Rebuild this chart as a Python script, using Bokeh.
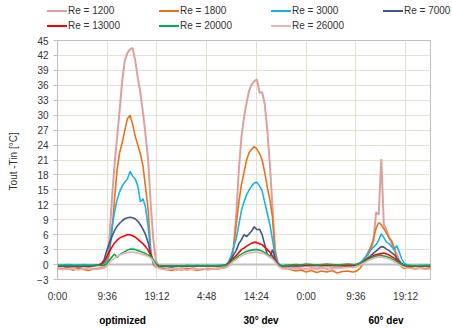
from bokeh.plotting import figure
from bokeh.layouts import column
from bokeh.models import Range1d, FixedTicker, LinearAxis, Span, Div
from bokeh.embed import file_html
from bokeh.resources import INLINE

# ---- time axis (hours since start) ----
T_PRE = [0, 1, 2, 3, 4, 5, 6, 7, 8]
T_D1 = [8.5, 9, 9.5, 10, 10.5, 11, 11.5, 12, 12.5, 13, 13.5, 14, 14.5, 15, 15.5, 16, 16.5, 17, 17.5, 18, 18.5, 19, 19.5]
T_G1 = [20, 21, 22, 23, 24, 25, 26, 27, 28, 29, 30, 31, 32]
T_D2 = [32.5, 33, 33.5, 34, 34.5, 35, 35.5, 36, 36.5, 37, 37.5, 38, 38.5, 39, 39.5, 40, 40.5, 41, 41.5, 42, 42.5, 43, 43.5]
T_G2 = [44, 45, 46, 47, 48, 49, 50, 51, 52, 53, 54, 55, 56, 57]
T_D3 = [57.5, 58, 58.5, 59, 59.5, 60, 60.5, 61, 61.5, 62, 62.5, 63, 63.5, 64, 64.5, 65, 65.5, 66, 66.5, 67, 67.5]
T_POST = [68, 69, 70, 71, 72]

x_ticks = [0, 9.6, 19.2, 28.8, 38.4, 48, 57.6, 67.2]
x_tick_labels = ["0:00", "9:36", "19:12", "4:48", "14:24", "0:00", "9:36", "19:12"]
y_ticks = [-3, 0, 3, 6, 9, 12, 15, 18, 21, 24, 27, 30, 33, 36, 39, 42, 45]
group_pos = [12.55, 39.3, 63.4]
group_names = ["optimized", "30° dev", "60° dev"]

# ---- Re = 1200 ----
re1200_pre = [-0.8, -0.9, -0.7, -1.0, -0.8, -0.9, -0.7, -0.9, -0.8]
re1200_d1 = [-0.6, -0.3, 0.5, 5, 13, 20, 25.5, 31, 37, 41, 42.5, 43.2, 43.5, 41, 37.5, 34.5, 30.5, 26, 21, 12, 5, 0.8, -0.3]
re1200_g1 = [-0.6, -0.9, -0.7, -1.1, -0.8, -1.0, -0.7, -0.9, -1.0, -0.8, -0.9, -0.7, -0.6]
re1200_d2 = [-0.5, -0.3, 0.2, 3.5, 10, 19, 25.5, 29.5, 32.5, 35, 36.2, 36.8, 37.2, 34.5, 34.6, 32.3, 27, 20, 11.5, 3, 0.5, -0.2, -0.4]
re1200_g2 = [-0.5, -0.7, -0.6, -0.8, -0.9, -0.7, -0.8, -0.6, -0.9, -0.7, -0.6, -0.5, -0.4, -0.4]
re1200_d3 = [-0.3, -0.2, 0.1, 0.6, 1.2, 2.0, 3.0, 4.8, 10.5, 10, 21.2, 8.0, 7.0, 5.5, 4.2, 3.2, 2.0, 0.8, 0.2, -0.3, -0.5]
re1200_post = [-0.6, -0.8, -0.7, -0.9, -0.8]

# ---- Re = 1800 ----
re1800_pre = [-0.9, -1.0, -0.8, -1.1, -0.9, -1.0, -1.2, -0.9, -0.8]
re1800_d1 = [-0.8, -0.7, -0.2, 2, 6.5, 13, 19, 22.5, 24.5, 27, 29.3, 30, 28.2, 25.8, 24, 22.2, 19.8, 15.5, 11, 3, 0, -0.5, -0.7]
re1800_g1 = [-0.8, -1.0, -1.2, -0.9, -1.1, -0.8, -1.0, -1.2, -0.9, -1.0, -0.8, -0.9, -0.7]
re1800_d2 = [-0.6, -0.2, 1, 3.5, 8, 12.5, 16, 18.5, 21, 22.5, 23.2, 23.7, 23.2, 22.3, 21, 18.5, 15.5, 13, 9.5, 2.5, 0, -0.5, -0.7]
re1800_g2 = [-0.8, -1.0, -1.3, -1.1, -1.5, -1.2, -1.6, -1.3, -1.5, -1.2, -1.7, -1.4, -1.3, -1.5]
re1800_d3 = [-1.4, -1.1, -0.6, 0.3, 1.5, 2.6, 3.6, 5.2, 7.3, 8.4, 8.0, 7.2, 6.3, 5.3, 4.8, 3.3, 1.2, 0.0, -0.5, -0.8, -0.7]
re1800_post = [-0.6, -0.9, -0.7, -0.8, -0.6]

# ---- Re = 3000 ----
re3000_pre = [-0.1, -0.1, 0.0, -0.1, -0.1, 0.0, -0.1, -0.1, -0.1]
re3000_d1 = [0.0, 0.2, 0.8, 3, 7.3, 10.5, 13, 14.6, 15.8, 16.6, 17.2, 18.7, 17.8, 17.2, 15.8, 12.6, 13.2, 11.5, 7.5, 2.2, 0.2, -0.2, -0.3]
re3000_g1 = [-0.3, -0.3, -0.4, -0.3, -0.3, -0.2, -0.2, -0.2, -0.2, -0.2, -0.2, -0.2, -0.1]
re3000_d2 = [-0.1, 0.5, 1.7, 3.5, 5.2, 8, 10.8, 12.6, 14, 15, 15.8, 16.4, 16.5, 15.8, 14.8, 12.5, 10.3, 8, 5, 1.8, 0.3, -0.1, -0.2]
re3000_g2 = [-0.2, -0.2, -0.1, -0.1, -0.1, -0.1, -0.1, -0.1, -0.1, -0.1, -0.1, -0.1, -0.1, -0.1]
re3000_d3 = [-0.1, 0.1, 0.4, 1.0, 1.6, 2.2, 3.0, 3.5, 4.0, 4.9, 6.2, 5.4, 4.5, 4.2, 3.6, 3.0, 3.8, 2.4, 1.0, 0.2, -0.1]
re3000_post = [-0.2, -0.2, -0.2, -0.1, -0.1]

# ---- Re = 7000 ----
re7000_pre = [-0.4, -0.4, -0.5, -0.4, -0.5, -0.4, -0.4, -0.3, -0.1]
re7000_d1 = [0.2, 1, 2.8, 4.2, 5.6, 6.8, 7.7, 8.3, 8.8, 9.2, 9.4, 9.5, 9.4, 9.2, 8.7, 8, 7.1, 6, 4.4, 2, 0.6, -0.1, -0.3]
re7000_g1 = [-0.4, -0.4, -0.5, -0.4, -0.4, -0.4, -0.3, -0.3, -0.3, -0.3, -0.3, -0.3, -0.2]
re7000_d2 = [-0.2, 0.3, 1.0, 2, 2.8, 4.2, 5, 6, 5.6, 6.2, 6.8, 7.6, 7, 7.1, 6, 4, 2, 1.4, 3, 1.2, 0.2, -0.2, -0.3]
re7000_g2 = [-0.3, -0.3, -0.3, -0.3, -0.2, -0.2, -0.2, -0.2, -0.2, -0.2, -0.2, -0.2, -0.2, -0.2]
re7000_d3 = [-0.2, 0.0, 0.3, 0.6, 1.0, 1.4, 1.8, 2.3, 2.7, 3.2, 3.6, 3.5, 3.1, 2.8, 2.4, 2.0, 1.3, 0.6, 0.1, -0.2, -0.3]
re7000_post = [-0.3, -0.3, -0.3, -0.3, -0.3]

# ---- Re = 13000 ----
re13000_pre = [-0.3, -0.3, -0.3, -0.3, -0.3, -0.3, -0.3, -0.2, -0.1]
re13000_d1 = [0.1, 0.6, 1.6, 2.6, 3.5, 4.3, 4.9, 5.3, 5.6, 5.8, 6.0, 6.0, 5.8, 5.5, 5.1, 4.6, 4.2, 3.6, 2.9, 1.8, 0.7, 0.0, -0.2]
re13000_g1 = [-0.3, -0.3, -0.3, -0.3, -0.3, -0.3, -0.3, -0.3, -0.3, -0.3, -0.3, -0.3, -0.2]
re13000_d2 = [-0.1, 0.3, 0.8, 1.3, 1.8, 2.4, 3.0, 3.3, 3.7, 4.0, 4.3, 4.5, 4.4, 4.2, 4.0, 3.5, 3.0, 2.5, 1.7, 0.8, 0.1, -0.2, -0.3]
re13000_g2 = [-0.2, -0.2, -0.2, -0.2, -0.2, -0.2, -0.2, -0.2, -0.2, -0.2, -0.2, -0.2, -0.2, -0.2]
re13000_d3 = [-0.1, 0.1, 0.3, 0.6, 0.9, 1.2, 1.5, 1.8, 2.0, 2.1, 2.2, 2.3, 2.1, 1.9, 1.6, 1.3, 0.9, 0.4, 0.0, -0.2, -0.3]
re13000_post = [-0.3, -0.3, -0.3, -0.3, -0.3]

# ---- Re = 20000 ----
re20000_pre = [-0.2, -0.2, -0.2, -0.2, -0.2, -0.2, -0.2, -0.2, -0.2]
re20000_d1 = [-0.2, -0.1, 0.1, 0.8, 1.5, 2.1, 1.4, 2.0, 2.3, 2.6, 2.9, 3.1, 3.1, 3.0, 2.8, 2.6, 2.4, 2.2, 1.9, 1.6, 1.0, 0.2, -0.2]
re20000_g1 = [-0.3, -0.3, -0.3, -0.3, -0.3, -0.2, -0.3, -0.2, -0.3, -0.2, -0.3, -0.2, -0.2]
re20000_d2 = [-0.2, 0.1, 0.5, 1.0, 1.3, 1.8, 2.1, 2.4, 2.6, 2.8, 2.9, 3.0, 3.0, 2.9, 2.7, 2.4, 2.1, 1.7, 1.2, 0.6, 0.0, -0.2, -0.3]
re20000_g2 = [-0.2, -0.1, 0.0, -0.1, 0.1, 0.0, -0.1, 0.0, 0.1, 0.0, -0.1, 0.0, 0.1, 0.0]
re20000_d3 = [0.0, 0.1, 0.3, 0.5, 0.8, 1.0, 1.3, 1.5, 1.7, 1.8, 1.8, 1.7, 1.6, 1.4, 1.2, 0.9, 0.6, 0.3, 0.0, -0.1, -0.2]
re20000_post = [-0.2, -0.3, -0.2, -0.3, -0.2]

# ---- Re = 26000 ----
re26000_pre = [-0.9, -1.0, -0.8, -0.9, -1.1, -0.9, -0.8, -1.0, -0.9]
re26000_d1 = [-0.8, -0.7, -0.4, 0.3, 0.9, 1.3, 1.6, 1.9, 2.1, 2.3, 2.4, 2.5, 2.5, 2.4, 2.3, 2.1, 2.0, 1.9, 1.6, 1.3, 0.6, -0.3, -0.8]
re26000_g1 = [-0.9, -1.1, -0.8, -1.0, -0.9, -1.2, -0.9, -1.0, -0.8, -1.1, -0.9, -0.8, -0.7]
re26000_d2 = [-0.6, -0.3, 0.2, 0.7, 1.0, 1.4, 1.7, 2.0, 2.2, 2.3, 2.4, 2.5, 2.5, 2.4, 2.3, 2.1, 1.8, 1.5, 1.1, 0.5, -0.2, -0.6, -0.9]
re26000_g2 = [-0.9, -0.8, -1.0, -0.7, -0.9, -0.8, -1.0, -0.8, -0.7, -0.9, -0.8, -0.7, -0.6, -0.6]
re26000_d3 = [-0.5, -0.3, -0.1, 0.2, 0.5, 0.8, 1.0, 1.2, 1.4, 1.5, 1.5, 1.4, 1.3, 1.1, 0.9, 0.6, 0.3, -0.1, -0.4, -0.6, -0.7]
re26000_post = [-0.8, -0.9, -0.7, -1.0, -0.8]

t = T_PRE + T_D1 + T_G1 + T_D2 + T_G2 + T_D3 + T_POST

series = [
    ("Re = 1200", "#DCA09E", 2.0, re1200_pre + re1200_d1 + re1200_g1 + re1200_d2 + re1200_g2 + re1200_d3 + re1200_post),
    ("Re = 1800", "#E8731A", 1.6, re1800_pre + re1800_d1 + re1800_g1 + re1800_d2 + re1800_g2 + re1800_d3 + re1800_post),
    ("Re = 3000", "#1AB2EE", 1.6, re3000_pre + re3000_d1 + re3000_g1 + re3000_d2 + re3000_g2 + re3000_d3 + re3000_post),
    ("Re = 7000", "#3A5A8C", 1.6, re7000_pre + re7000_d1 + re7000_g1 + re7000_d2 + re7000_g2 + re7000_d3 + re7000_post),
    ("Re = 13000", "#FF0000", 1.6, re13000_pre + re13000_d1 + re13000_g1 + re13000_d2 + re13000_g2 + re13000_d3 + re13000_post),
    ("Re = 20000", "#00B050", 1.6, re20000_pre + re20000_d1 + re20000_g1 + re20000_d2 + re20000_g2 + re20000_d3 + re20000_post),
    ("Re = 26000", "#E8B4B2", 1.6, re26000_pre + re26000_d1 + re26000_g1 + re26000_d2 + re26000_g2 + re26000_d3 + re26000_post),
]
for name, _, _, vals in series:
    assert len(vals) == len(t), (name, len(vals), len(t))

FONT = "Liberation Sans"
GRID = "#E6E0D0"
AXIS = "#BFBFBF"

# ---------------- legend strip (HTML, 4 items per row) ----------------
parts = ['<div style="position:relative;width:452px;height:36px;margin:0;padding:0;">']
for i, (name, color, lw, vals) in enumerate(series):
    col, row = i % 4, i // 4
    lx = 47 + 112 * col
    ly = 11 + 15 * row
    parts.append(
        f'<div style="position:absolute;left:{lx}px;top:{ly - 1}px;width:20px;height:2px;'
        f'background:{color};"></div>')
    parts.append(
        f'<div style="position:absolute;left:{lx + 21}px;top:{ly - 7}px;height:14px;line-height:14px;'
        f'font-family:\'{FONT}\';font-size:10px;color:#333333;white-space:nowrap;">{name}</div>')
parts.append('</div>')
leg = Div(text="".join(parts), width=452, height=36, margin=0)

# ---------------- main plot ----------------
p = figure(width=452, height=292, x_range=Range1d(0, 72), y_range=Range1d(-3, 45),
           output_backend="svg", toolbar_location=None,
           min_border_left=57, min_border_right=22, min_border_top=4, min_border_bottom=48)
p.outline_line_color = AXIS
p.background_fill_color = "white"
p.border_fill_color = "white"

p.xgrid.ticker = FixedTicker(ticks=x_ticks)
p.ygrid.ticker = FixedTicker(ticks=y_ticks)
p.xgrid.grid_line_color = GRID
p.ygrid.grid_line_color = GRID

p.add_layout(Span(location=0, dimension="width", line_color=AXIS, line_width=2, level="underlay"))

for name, color, lw, vals in series:
    p.line(t, vals, line_color=color, line_width=lw)

# y axis
ya = p.yaxis[0]
ya.ticker = FixedTicker(ticks=y_ticks)
ya.axis_line_color = AXIS
ya.major_tick_line_color = AXIS
ya.major_tick_out = 4
ya.major_tick_in = 0
ya.minor_tick_line_color = None
ya.major_label_standoff = 5
ya.major_label_text_font = FONT
ya.major_label_text_font_size = "10px"
ya.major_label_text_color = "#333333"
ya.axis_label = "Tout -Tin  [°C]"
ya.axis_label_text_font = FONT
ya.axis_label_text_font_size = "10px"
ya.axis_label_text_font_style = "normal"
ya.axis_label_text_color = "#333333"
ya.axis_label_standoff = 15

# x axis (time of day)
xa = p.xaxis[0]
xa.ticker = FixedTicker(ticks=x_ticks)
xa.major_label_overrides = dict(zip(x_ticks, x_tick_labels))
xa.axis_line_color = None
xa.major_tick_line_color = None
xa.major_tick_out = 0
xa.major_tick_in = 0
xa.minor_tick_line_color = None
xa.axis_label_standoff = 0
xa.major_label_standoff = 11
xa.major_label_text_font = FONT
xa.major_label_text_font_size = "10px"
xa.major_label_text_color = "#333333"

# group labels
ga = LinearAxis(ticker=FixedTicker(ticks=group_pos),
                major_label_overrides=dict(zip(group_pos, group_names)),
                axis_line_color=None, major_tick_line_color=None, minor_tick_line_color=None,
                major_tick_out=0, major_tick_in=0, axis_label_standoff=0,
                major_label_standoff=10, major_label_text_font=FONT,
                major_label_text_font_size="10px", major_label_text_font_style="bold",
                major_label_text_color="black")
p.add_layout(ga, "below")

layout = column(leg, p, spacing=0)
open("out.html", "w").write(file_html(layout, INLINE))
